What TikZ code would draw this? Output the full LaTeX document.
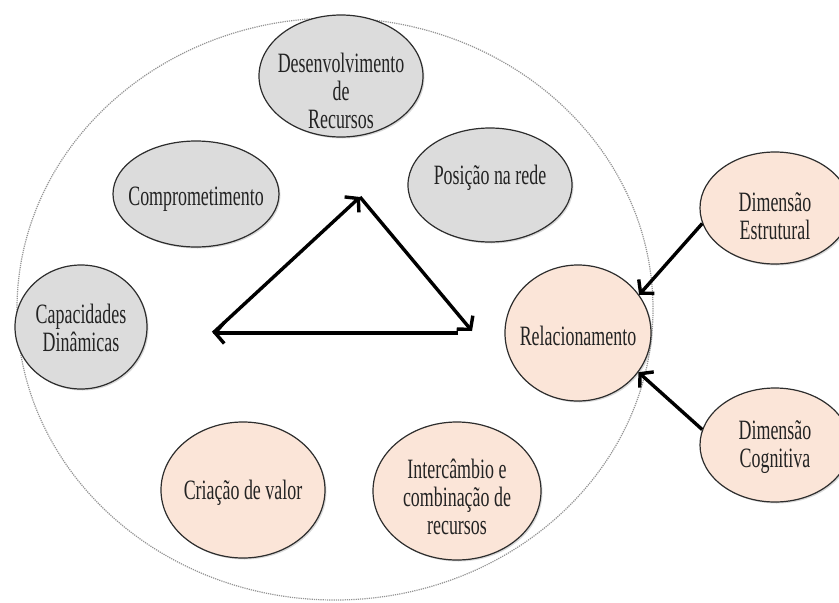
\documentclass[tikz,border=0pt]{standalone}
\usepackage{fontspec}
\setmainfont{Liberation Serif}[FakeStretch=0.64]
\usetikzlibrary{shapes.geometric,arrows.meta,shadows}
\definecolor{greyfill}{RGB}{220,220,220}
\definecolor{peachfill}{RGB}{251,229,216}
\definecolor{rim}{RGB}{45,45,45}
\definecolor{ink}{RGB}{35,35,35}
\tikzset{
  bubble/.style={ellipse, draw=rim, line width=1.2pt, inner sep=0pt,
    drop shadow={shadow xshift=1.5pt, shadow yshift=-1.5pt, opacity=0.3}},
  greybubble/.style={bubble, fill=greyfill},
  peachbubble/.style={bubble, fill=peachfill},
  caption/.style={text=ink, align=center, inner sep=0pt,
    font=\fontsize{28}{28}\selectfont},
  bigarrow/.style={line width=3.4pt, black,
    -{Straight Barb[length=9pt,width=21pt]}},
}
\begin{document}
\begin{tikzpicture}[x=1pt,y=-1pt]
\useasboundingbox (0,0) rectangle (839,603);
\clip (0,0) rectangle (839,603);

% outer boundary of the network
\node[ellipse, draw=gray!85, densely dotted, line width=1.2pt,
  minimum width=636pt, minimum height=582pt] (net) at (335,309) {};

% grey bubbles
\node[greybubble, minimum width=164pt, minimum height=122pt] (desenv) at (341,76) {};
\node[caption] (desenvT) at (341,91) {Desenvolvimento\\de\\Recursos};

\node[greybubble, minimum width=166pt, minimum height=106pt] (compr) at (196,194) {};
\node[caption] (comprT) at (196,199) {Comprometimento};

\node[greybubble, minimum width=164pt, minimum height=114pt] (posic) at (490,185) {};
\node[caption] (posicT) at (490,178) {Posição na rede};

\node[greybubble, minimum width=132pt, minimum height=124pt] (capac) at (81,327) {};
\node[caption] (capacT) at (81,328) {Capacidades\\Dinâmicas};

% peach bubbles
\node[peachbubble, minimum width=146pt, minimum height=136pt] (relac) at (578,333) {};
\node[caption] (relacT) at (578,336) {Relacionamento};

\node[peachbubble, minimum width=164pt, minimum height=136pt] (criac) at (243,490) {};
\node[caption] (criacT) at (243,493) {Criação de valor};

\node[peachbubble, minimum width=168pt, minimum height=138pt] (inter) at (457,491) {};
\node[caption] (interT) at (457,497) {Intercâmbio e\\combinação de\\recursos};

\node[peachbubble, minimum width=150pt, minimum height=112pt] (estr) at (775,208) {};
\node[caption] (estrT) at (775,216) {Dimensão\\Estrutural};

\node[peachbubble, minimum width=150pt, minimum height=114pt] (cogn) at (775,445) {};
\node[caption] (cognT) at (775,447) {Dimensão\\Cognitiva};

% central triangle of arrows
\coordinate (apex) at (360,197);
\coordinate (leftv) at (213,333);
\coordinate (rightv) at (472,331);
\coordinate (botstart) at (458,333);
\draw[bigarrow] (leftv) -- (apex);
\draw[bigarrow] (apex) -- (rightv);
\draw[bigarrow] (botstart) -- (leftv);

% dimensions feeding the relationship
\draw[bigarrow] (estr.192) -- (relac.32);
\draw[bigarrow] (cogn.168) -- (relac.-33);
\end{tikzpicture}
\end{document}
